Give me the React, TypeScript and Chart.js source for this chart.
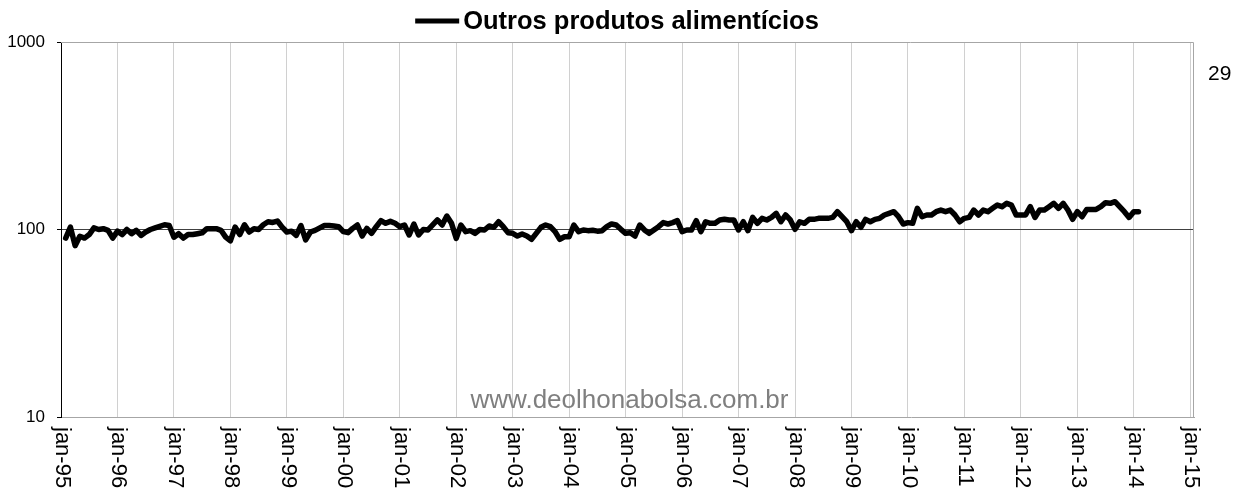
import React, { useEffect, useRef } from "react";
import { Chart, registerables } from "chart.js";

Chart.register(...registerables);

const FONT = "'Liberation Sans', Arial, Helvetica, sans-serif";

const seriesName = "Outros produtos alimentícios";
const pageNumber = "29";
const watermarkText = "www.deolhonabolsa.com.br";

// months counted from jan-95 (0); the series starts at feb-95
const firstMonth = 1;

// feb-95 .. oct-99
const values1995to1999 = [90, 103, 82, 92, 90, 94, 102, 100, 101, 99, 90, 98, 94, 100, 95, 99, 93, 97, 100, 102, 104, 106, 105, 91, 95, 90, 94, 94, 95, 96, 101, 101, 101, 99, 91, 87, 103, 94, 106, 97, 101, 100, 106, 110, 109, 111, 103, 97, 98, 93, 105, 88, 97, 99, 102, 105, 105];
// nov-99 .. jul-04
const values1999to2004 = [104.4, 103.5, 97.4, 96.2, 101.4, 105.7, 92.3, 101.4, 95.4, 103.5, 111.5, 107.9, 110.5, 107.9, 103.5, 105.7, 93.5, 107, 93.5, 100, 99.4, 105.7, 112.4, 105.7, 118, 107.9, 89.7, 105.7, 97.4, 98.6, 95.4, 100, 99.4, 104.4, 102.7, 110, 103.5, 96.2, 95.4, 92.3, 94.6, 92.3, 88.6, 95.4, 102.7, 105.7, 103.5, 97.4, 88.6, 91.5, 91.5, 105.7, 97.4, 99.4, 98.6, 99, 98];
// aug-04 .. apr-09
const values2004to2009 = [98.6, 103.5, 107, 105.7, 100.2, 95.4, 96.2, 92.3, 105.7, 99.4, 95.4, 99.4, 103.5, 108.8, 107, 108.8, 111.5, 97.4, 99.4, 99.4, 111.5, 97.4, 110, 107.9, 107.9, 112.4, 113.3, 112.4, 112.4, 99.4, 110, 98.6, 116, 107.9, 114.7, 112.4, 116, 122, 110, 119.5, 112.4, 100.2, 110, 107.9, 113.3, 113.3, 114.7, 114.7, 114.7, 116, 124.5, 117, 110, 98.6, 110, 102.7, 113.3];
// may-09 .. feb-14
const values2009to2014 = [110, 113.3, 114.7, 119.5, 122, 124.5, 117, 107, 108.8, 107.9, 129.7, 117, 119.5, 119.5, 124.5, 127, 124.5, 127, 119.5, 110, 114.7, 116, 127, 119.5, 127, 124.5, 129.7, 135, 132.3, 137.9, 135, 119.5, 119.5, 119.5, 132.3, 116, 127, 127, 132.3, 137.9, 129.7, 137.9, 127, 113.3, 124.5, 117, 128, 128, 128, 132.3, 139, 137.9, 140.7, 132.3, 124.5, 116, 124.5, 124.5];

const seriesValues = [...values1995to1999, ...values1999to2004, ...values2004to2009, ...values2009to2014];

const xTickLabels = ["jan-95", "jan-96", "jan-97", "jan-98", "jan-99", "jan-00", "jan-01", "jan-02", "jan-03", "jan-04", "jan-05", "jan-06", "jan-07", "jan-08", "jan-09", "jan-10", "jan-11", "jan-12", "jan-13", "jan-14", "jan-15"];
const xTickMonths = xTickLabels.map((_, i) => i * 12);
const yTicks = [10, 100, 1000];

const overlayPlugin = {
  id: "overlay",
  beforeDatasetsDraw(chart: any) {
    const { ctx, chartArea: a } = chart;
    ctx.save();
    ctx.strokeStyle = "#a6a6a6";
    ctx.lineWidth = 1;
    ctx.beginPath();
    ctx.moveTo(a.left, Math.round(a.top) + 0.5);
    ctx.lineTo(Math.round(a.right) - 0.5, Math.round(a.top) + 0.5);
    ctx.lineTo(Math.round(a.right) - 0.5, a.bottom);
    ctx.stroke();
    ctx.restore();
  },
  afterDraw(chart: any) {
    const { ctx, chartArea: a, width } = chart;
    const xs = chart.scales.x;
    ctx.save();
    // x tick labels, rotated downward
    ctx.fillStyle = "#000";
    ctx.font = `22px ${FONT}`;
    xTickLabels.forEach((lab, i) => {
      const px = xs.getPixelForValue(xTickMonths[i]);
      ctx.save();
      ctx.translate(px + 1, a.bottom + 10);
      ctx.rotate(Math.PI / 2);
      ctx.textAlign = "left";
      ctx.textBaseline = "middle";
      ctx.fillText(lab, 0, 0);
      ctx.restore();
    });
    // legend
    ctx.font = `bold 25.5px ${FONT}`;
    const tw = ctx.measureText(seriesName).width;
    const lineLen = 44;
    const gap = 4;
    const total = lineLen + gap + tw;
    const sx = width / 2 - total / 2;
    const ly = 21;
    ctx.strokeStyle = "#000";
    ctx.lineWidth = 5;
    ctx.beginPath();
    ctx.moveTo(sx, ly);
    ctx.lineTo(sx + lineLen, ly);
    ctx.stroke();
    ctx.textAlign = "left";
    ctx.textBaseline = "middle";
    ctx.fillText(seriesName, sx + lineLen + gap, ly + 1);
    // page number
    ctx.font = `21px ${FONT}`;
    ctx.fillText(pageNumber, 1208, 74);
    // watermark
    ctx.fillStyle = "#7f7f7f";
    ctx.font = `26px ${FONT}`;
    ctx.textAlign = "center";
    ctx.textBaseline = "alphabetic";
    ctx.fillText(watermarkText, (a.left + a.right) / 2 + 2, 408);
    ctx.restore();
  },
};

export default function App() {
  const ref = useRef<HTMLCanvasElement | null>(null);

  useEffect(() => {
    if (!ref.current) return;
    const data = seriesValues.map((v, i) => ({ x: firstMonth + i, y: v }));
    const chart = new Chart(ref.current, {
      type: "line",
      data: {
        datasets: [
          {
            label: seriesName,
            data,
            borderColor: "#000",
            backgroundColor: "#000",
            borderWidth: 5.5,
            pointRadius: 0,
            tension: 0,
            fill: false,
            borderJoinStyle: "round",
            borderCapStyle: "round",
          },
        ],
      },
      options: {
        responsive: false,
        animation: false,
        layout: { padding: { top: 42, right: 40, left: 0, bottom: 0 } },
        plugins: {
          legend: { display: false },
          tooltip: { enabled: false },
          title: { display: false },
        },
        scales: {
          x: {
            type: "linear",
            min: 0,
            max: 240.8,
            afterBuildTicks: (s: any) => {
              s.ticks = xTickMonths.map((v) => ({ value: v }));
            },
            afterFit: (s: any) => {
              s.height = 78;
            },
            ticks: { display: false },
            grid: { color: "#d0d0d0", drawTicks: false, lineWidth: 1 },
            border: { color: "#a6a6a6", width: 1 },
          },
          y: {
            type: "logarithmic",
            min: 10,
            max: 1000,
            afterBuildTicks: (s: any) => {
              s.ticks = yTicks.map((v) => ({ value: v }));
            },
            afterFit: (s: any) => {
              s.width = 61;
            },
            ticks: {
              color: "#000",
              padding: 12,
              font: { size: 17, family: FONT },
              callback: (v: any) => String(v),
            },
            grid: {
              color: (c: any) => (c.tick && c.tick.value === 100 ? "#404040" : "rgba(0,0,0,0)"),
              tickColor: "#000",
              tickLength: 4,
              lineWidth: 1,
            },
            border: { color: "#000", width: 1 },
          },
        },
      },
      plugins: [overlayPlugin],
    });
    return () => chart.destroy();
  }, []);

  return (
    <div style={{ position: "absolute", left: 0, top: 0, width: 1234, height: 495, background: "#fff" }}>
      <canvas ref={ref} width={1234} height={495} style={{ display: "block" }} />
    </div>
  );
}
